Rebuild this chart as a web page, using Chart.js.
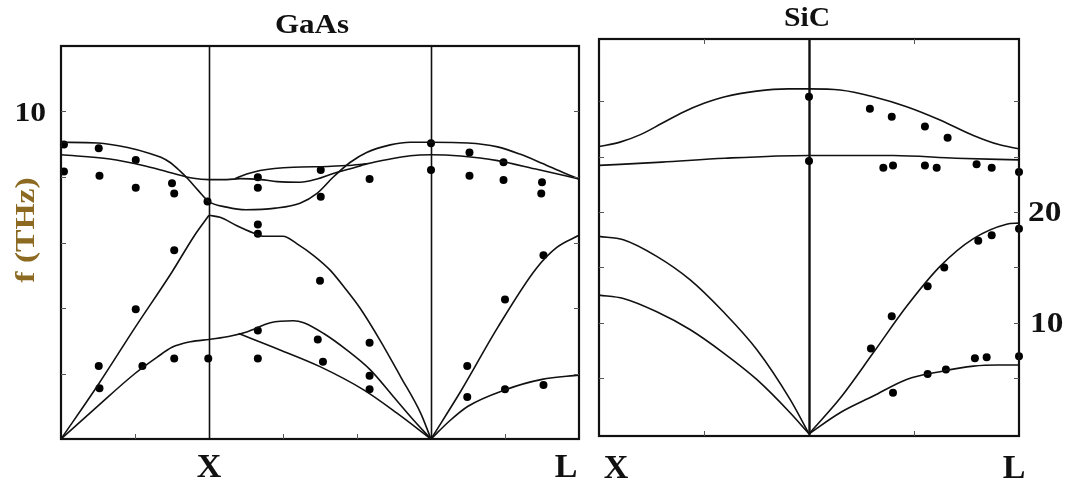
<!DOCTYPE html>
<html>
<head>
<meta charset="utf-8">
<script src="https://cdn.jsdelivr.net/npm/chart.js@4.4.1/dist/chart.umd.min.js"></script>
<style>
  html, body { margin: 0; padding: 0; background: #fff; }
  body { width: 1069px; height: 485px; position: relative; overflow: hidden; }
  .box { position: absolute; top: 0; height: 485px; }
  #gaasBox { left: 0; width: 600px; }
  #sicBox { left: 590px; width: 479px; }
  .fontprobe { position: absolute; left: -999px; top: 0; font: bold 20px "Liberation Serif"; }
</style>
</head>
<body>
<span class="fontprobe">GaAs SiC 10 20 X L f (THz)</span>
<div class="box" id="gaasBox"><canvas id="gaasChart"></canvas></div>
<div class="box" id="sicBox"><canvas id="sicChart"></canvas></div>
<script>
// GaAs: x path Γ(0) - X(2) - Γ(5) - L(7), f in THz
const gaasOptA = [[0, 9.06], [0.5, 9.04], [0.9, 8.9], [1.2, 8.72], [1.35, 8.6], [1.47, 8.45], [1.6, 8.2], [1.72, 7.93], [1.85, 7.6], [2.0, 7.25],
  [2.24, 7.08], [2.5, 7.0], [2.9, 7.05], [3.23, 7.2], [3.46, 7.5], [3.68, 8.0], [3.91, 8.45], [4.13, 8.75], [4.45, 8.98], [4.72, 9.06], [5.0, 9.06],
  [5.5, 9.04], [5.9, 8.92], [6.2, 8.7], [6.5, 8.42], [6.8, 8.12], [7.0, 7.94]];
const gaasOptB = [[0, 8.68], [0.66, 8.55], [1.11, 8.35], [1.47, 8.14], [1.79, 7.96], [2.0, 7.92],
  [2.24, 7.92], [2.42, 7.95], [2.7, 7.92], [2.92, 7.86], [3.23, 7.84], [3.46, 7.94], [3.68, 8.11], [3.91, 8.25], [4.13, 8.4], [4.45, 8.55], [4.72, 8.65], [5.0, 8.68],
  [5.4, 8.64], [5.9, 8.5], [6.4, 8.25], [7.0, 7.94]];
const gaasOptC = [[2.35, 7.95], [2.51, 8.09], [2.69, 8.2], [3.14, 8.3], [3.6, 8.32], [3.86, 8.35], [4.13, 8.4]];
const gaasLA_GX = [[0, 0], [0.5, 1.65], [1.0, 3.4], [1.5, 5.1], [1.8, 6.2], [2.0, 6.83]];
const gaasLA_XG = [[2.0, 6.83], [2.15, 6.77], [2.37, 6.52], [2.6, 6.29], [2.73, 6.19], [3.0, 6.19], [3.19, 5.96], [3.41, 5.61], [3.64, 5.15],
  [3.86, 4.54], [4.04, 4.0], [4.31, 3.02], [4.59, 1.9], [4.86, 0.79], [5.0, 0]];
const gaasLA_GL = [[5.0, 0], [5.4, 1.45], [5.9, 3.4], [6.42, 5.2], [6.7, 5.85], [7.0, 6.22]];
const gaasTA_GX = [[0, 0], [0.47, 0.95], [1.0, 2.0], [1.3, 2.5], [1.5, 2.8], [1.75, 2.97], [2.0, 3.04]];
const gaasTA1_XG = [[2.0, 3.04], [2.28, 3.14], [2.51, 3.27], [2.83, 3.55], [3.14, 3.61], [3.28, 3.55], [3.55, 3.22], [3.86, 2.72], [4.18, 2.11],
  [4.49, 1.3], [4.76, 0.59], [5.0, 0]];
const gaasTA2_XG = [[2.4, 3.22], [2.96, 2.72], [3.5, 2.21], [4.09, 1.5], [4.54, 0.79], [5.0, 0]];
const gaasTA_GL = [[5.0, 0], [5.25, 0.55], [5.5, 1.0], [6.0, 1.5], [6.5, 1.82], [7.0, 1.95]];
const gaasDots = [[0.04, 8.99], [0.04, 8.17], [0.51, 8.88], [0.52, 8.04], [1.01, 8.52], [1.01, 7.67], [1.5, 7.81], [1.53, 7.5], [1.98, 7.25],
  [2.66, 7.99], [2.66, 7.67], [3.51, 8.21], [3.51, 7.4], [4.17, 7.94], [5.0, 9.03], [5.0, 8.21], [5.52, 8.75], [5.52, 8.04], [5.98, 8.45],
  [5.98, 7.91], [6.5, 7.84], [6.49, 7.5],
  [1.53, 5.76], [1.01, 3.96], [0.51, 2.23], [0.52, 1.55], [1.1, 2.23], [1.53, 2.46], [1.99, 2.46], [2.66, 6.55], [2.66, 6.27], [2.66, 3.31],
  [2.66, 2.46], [3.5, 4.83], [3.47, 3.04], [3.54, 2.36], [4.17, 2.94], [4.17, 1.93], [4.17, 1.52], [5.49, 2.23], [5.49, 1.28], [6.0, 4.26],
  [6.0, 1.52], [6.52, 5.61], [6.52, 1.65]];
const gaasYTicks = [2, 4, 6, 8, 10];
const gaasXTicks = [1, 3, 4, 6];

// SiC: x path X(0) - Γ(1) - L(2), f in THz
const sicLO = [[0, 25.9], [0.1, 26.3], [0.2, 27.0], [0.3, 28.0], [0.4, 29.0], [0.5, 29.8], [0.6, 30.4], [0.75, 30.9], [0.9, 31.1], [1.0, 31.1],
  [1.148, 31.0], [1.306, 30.4], [1.465, 29.5], [1.624, 28.3], [1.783, 26.9], [1.9, 26.1], [2.0, 25.7]];
const sicTO = [[0, 24.2], [0.3, 24.5], [0.6, 24.85], [1.0, 25.1], [1.4, 25.1], [1.7, 24.85], [2.0, 24.7]];
const sicLA_XG = [[0, 17.8], [0.116, 17.5], [0.275, 16.0], [0.433, 13.9], [0.592, 11.0], [0.751, 7.6], [0.91, 3.1], [1.0, 0]];
const sicTA_XG = [[0, 12.5], [0.116, 12.2], [0.275, 11.0], [0.433, 9.4], [0.592, 7.3], [0.751, 4.9], [0.91, 1.9], [1.0, 0]];
const sicLA_GL = [[1.0, 0], [1.148, 3.2], [1.306, 7.3], [1.465, 11.5], [1.624, 15.1], [1.783, 17.6], [1.941, 18.9], [2.0, 19.0]];
const sicTA_GL = [[1.0, 0], [1.148, 1.9], [1.306, 3.4], [1.465, 4.9], [1.624, 5.6], [1.783, 6.1], [1.9, 6.2], [2.0, 6.2]];
const sicDots = [[1.0, 30.4], [1.29, 29.3], [1.394, 28.6], [1.552, 27.7], [1.66, 26.7],
  [1.0, 24.6], [1.354, 24.0], [1.40, 24.2], [1.552, 24.2], [1.608, 24.0], [1.798, 24.3], [1.87, 24.0], [2.0, 23.6],
  [2.0, 18.5], [1.87, 17.9], [1.806, 17.4], [1.644, 15.0], [1.565, 13.3], [1.394, 10.6], [1.295, 7.7],
  [2.0, 7.0], [1.846, 6.9], [1.79, 6.8], [1.652, 5.8], [1.565, 5.4], [1.40, 3.7]];
const sicYTicks = [5, 10, 15, 20, 25, 30];
const sicXTicks = [0.5, 1.5];

const labelColor = '#8c6a22';
const serif = '"Liberation Serif", "Times New Roman", Times, serif';

function toXY(arr) {
    return arr.map(p => ({ x: p[0], y: p[1] }));
}

function curve(arr) {
    return {
        data: toXY(arr),
        showLine: true,
        borderColor: '#111',
        borderWidth: 1.6,
        pointRadius: 0,
        cubicInterpolationMode: 'monotone',
        fill: false
    };
}

function dots(arr) {
    return {
        data: toXY(arr),
        showLine: false,
        pointRadius: 4,
        pointBackgroundColor: '#000',
        pointBorderWidth: 0,
        clip: false
    };
}

// draws text with optional horizontal stretch / rotation
function text(ctx, str, x, y, size, opts) {
    opts = opts || {};
    ctx.save();
    ctx.translate(x, y);
    if (opts.rot) ctx.rotate(opts.rot);
    ctx.scale(opts.sx || 1, 1);
    ctx.font = 'bold ' + size + 'px ' + serif;
    ctx.fillStyle = opts.color || '#111';
    ctx.textAlign = opts.align || 'center';
    ctx.textBaseline = 'alphabetic';
    ctx.fillText(str, 0, 0);
    ctx.restore();
}

// frame, symmetry lines, inward ticks and labels
const framePlugin = {
    id: 'frame',
    beforeDatasetsDraw(chart, args, o) {
        const ctx = chart.ctx, a = chart.chartArea, xs = chart.scales.x;
        ctx.save();
        ctx.strokeStyle = '#111';
        ctx.lineWidth = o.vlineWidth;
        o.vlines.forEach(v => {
            const px = Math.round(xs.getPixelForValue(v)) + 0.5;
            ctx.beginPath();
            ctx.moveTo(px, a.top);
            ctx.lineTo(px, a.bottom);
            ctx.stroke();
        });
        ctx.restore();
    },
    afterDatasetsDraw(chart, args, o) {
        const ctx = chart.ctx, a = chart.chartArea, xs = chart.scales.x, ys = chart.scales.y;
        ctx.save();
        ctx.strokeStyle = '#111';
        ctx.lineWidth = 2.2;
        ctx.strokeRect(a.left, a.top, a.right - a.left, a.bottom - a.top);
        ctx.lineWidth = 1;
        ctx.strokeStyle = '#555';
        o.yticks.forEach(v => {
            const py = Math.round(ys.getPixelForValue(v)) + 0.5;
            ctx.beginPath();
            ctx.moveTo(a.left, py); ctx.lineTo(a.left + 5, py);
            ctx.moveTo(a.right, py); ctx.lineTo(a.right - 5, py);
            ctx.stroke();
        });
        o.xticks.forEach(v => {
            const px = Math.round(xs.getPixelForValue(v)) + 0.5;
            ctx.beginPath();
            ctx.moveTo(px, a.bottom); ctx.lineTo(px, a.bottom - 5);
            if (o.topTicks) { ctx.moveTo(px, a.top); ctx.lineTo(px, a.top + 5); }
            ctx.stroke();
        });
        ctx.restore();
        o.labels.forEach(l => {
            const x = l.xv !== undefined ? xs.getPixelForValue(l.xv) + (l.dx || 0) : l.x;
            const y = l.yv !== undefined ? ys.getPixelForValue(l.yv) + (l.dy || 0) : l.y;
            text(ctx, l.t, x, y, l.size, l);
        });
    }
};

Chart.register(framePlugin);

function baseOptions(xMax, yMin, yMax, pad, frame) {
    return {
        responsive: true,
        maintainAspectRatio: false,
        animation: false,
        layout: { padding: pad },
        scales: {
            x: { type: 'linear', min: 0, max: xMax, display: false },
            y: { type: 'linear', min: yMin, max: yMax, display: false }
        },
        plugins: {
            legend: { display: false },
            tooltip: { enabled: false },
            frame: frame
        }
    };
}

function buildCharts() {
    new Chart(document.getElementById('gaasChart'), {
        type: 'scatter',
        data: {
            datasets: [gaasOptA, gaasOptB, gaasOptC, gaasLA_GX, gaasLA_XG, gaasLA_GL, gaasTA_GX, gaasTA1_XG, gaasTA2_XG, gaasTA_GL]
                .map(curve).concat([dots(gaasDots)])
        },
        options: baseOptions(7, 0, 12, { left: 61, top: 46, right: 21, bottom: 46 }, {
            vlines: [2, 5],
            vlineWidth: 1.6,
            yticks: gaasYTicks,
            xticks: gaasXTicks,
            topTicks: false,
            labels: [
                { t: 'GaAs', x: 312, y: 33, size: 27, sx: 1.15 },
                { t: '10', x: 46, yv: 10, dy: 9, size: 27, align: 'right', sx: 1.17 },
                { t: 'X', xv: 2, y: 477, size: 34 },
                { t: 'L', xv: 7, dx: -13, y: 477, size: 34 },
                { t: 'f (THz)', x: 34, y: 230, size: 28, rot: -Math.PI / 2, sx: 1.2, color: labelColor }
            ]
        })
    });

    new Chart(document.getElementById('sicChart'), {
        type: 'scatter',
        data: {
            datasets: [sicLO, sicTO, sicLA_XG, sicTA_XG, sicLA_GL, sicTA_GL].map(curve).concat([dots(sicDots)])
        },
        options: baseOptions(2, -0.2, 35.6, { left: 9, top: 39, right: 50, bottom: 49 }, {
            vlines: [1],
            vlineWidth: 2.4,
            yticks: sicYTicks,
            xticks: sicXTicks,
            topTicks: true,
            labels: [
                { t: 'SiC', x: 217, y: 26, size: 27, sx: 1.1 },
                { t: '20', x: 438, yv: 20, dy: 9, size: 29, align: 'left', sx: 1.15 },
                { t: '10', x: 440, yv: 10, dy: 9, size: 29, align: 'left', sx: 1.15 },
                { t: 'X', xv: 0, dx: 17, y: 478, size: 34 },
                { t: 'L', xv: 2, dx: -5, y: 478, size: 34 }
            ]
        })
    });
}

// wait for the serif font so the canvas labels use it
if (document.fonts && document.fonts.load) {
    document.fonts.load('bold 20px "Liberation Serif"').then(buildCharts, buildCharts);
} else {
    buildCharts();
}
</script>
</body>
</html>
